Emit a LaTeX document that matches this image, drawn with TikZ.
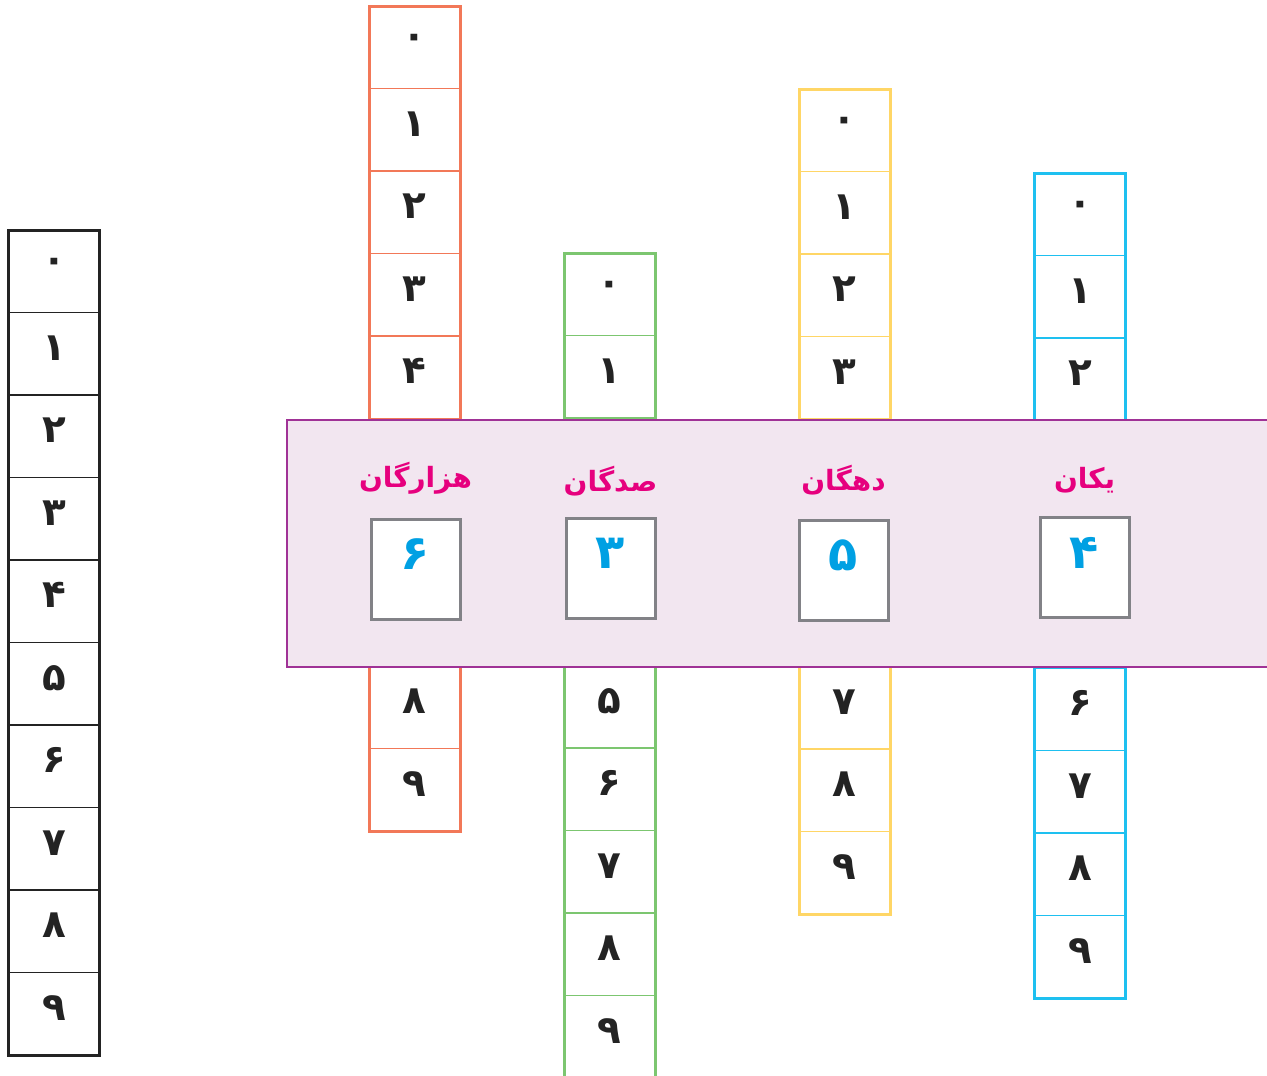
\documentclass[tikz,border=0pt]{standalone}
\usepackage{fontspec}
\newfontfamily\arabicfont[Script=Arabic]{DejaVu Sans}
\TeXXeTstate=1
\definecolor{placeblack}{RGB}{35,35,35}
\definecolor{placeorange}{RGB}{242,120,88}
\definecolor{placegreen}{RGB}{124,198,112}
\definecolor{placeyellow}{RGB}{255,214,102}
\definecolor{placeblue}{RGB}{30,192,240}
\definecolor{bandfill}{RGB}{242,230,240}
\definecolor{bandline}{RGB}{160,50,150}
\definecolor{labelpink}{RGB}{230,0,126}
\definecolor{valueblue}{RGB}{0,160,227}
\definecolor{boxgray}{RGB}{130,130,135}
\begin{document}
\begin{tikzpicture}[x=1bp,y=-1bp,
    digit/.style={font=\arabicfont\bfseries\fontsize{39}{39}\selectfont,text=placeblack},
    placename/.style={font=\arabicfont\bfseries\fontsize{28}{28}\selectfont,text=labelpink},
    valuebox/.style={draw=boxgray,line width=3bp,fill=white,minimum width=89bp,minimum height=100bp,inner sep=0pt},
    value/.style={font=\arabicfont\bfseries\fontsize{48}{48}\selectfont,text=valueblue}]
  \useasboundingbox (0,0) rectangle (1267,1076);
  % digit columns: name / centre x / top y / colour
  \foreach \name/\cx/\top/\col in {ref/54/230/placeblack,thousands/414.5/6/placeorange,
      hundreds/609.5/253/placegreen,tens/844.5/89/placeyellow,ones/1080/173/placeblue} {
    \foreach \k in {1,...,9}
      \draw[\col,line width=1.5bp] (\cx-45.5,\top+82.5*\k) -- (\cx+45.5,\top+82.5*\k);
    \draw[\col,line width=3bp] (\cx-45.5,\top) rectangle (\cx+45.5,\top+825);
    \foreach \d [count=\k from 0] in {۰,۱,۲,۳,۴,۵,۶,۷,۸,۹} {
      \pgfmathsetmacro\cy{\top+82.5*\k+41.25}
      % cells under the band stay hidden
      \pgfmathtruncatemacro\hidden{and(\cy>420,\cy<667) && \cx>200}
      \ifnum\hidden=0
        \node[digit] (\name-\k) at (\cx,\cy-6) {\d};
      \fi
    }
  }
  % band over the columns
  \fill[bandfill,draw=bandline,line width=1.5bp] (287,420) rectangle (1290,667);
  \foreach \name/\cx/\ly/\by/\word/\v in {thousands/415.5/478/569.5/هزارگان/۶,
      hundreds/610.5/481/568/صدگان/۳,tens/843.5/480/570/دهگان/۵,ones/1084.5/480/567.5/یکان/۴} {
    \node[placename] (\name-label) at (\cx,\ly) {\beginR\word\endR};
    \node[valuebox] (\name-box) at (\cx,\by) {};
    \node[value] (\name-value) at ([yshift=15bp]\name-box.center) {\v};
  }
\end{tikzpicture}
\end{document}
